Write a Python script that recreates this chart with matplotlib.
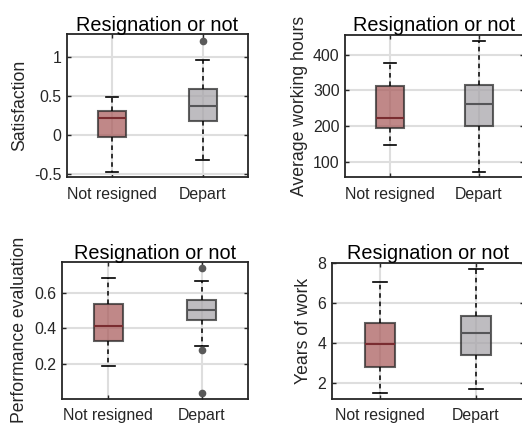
import matplotlib.pyplot as plt

plt.rcParams['font.family'] = ['Liberation Sans', 'DejaVu Sans']

GROUPS = ['Not resigned', 'Depart']
TITLE = 'Resignation or not'

# box statistics per group: whislo, q1, med, q3, whishi, fliers
satisfaction = [
    [-0.467, -0.03, 0.217, 0.314, 0.49, []],
    [-0.315, 0.179, 0.374, 0.587, 0.957, [1.2]],
]
working_hours = [
    [147, 195.6, 223.5, 312, 377.6, []],
    [71, 199.6, 261, 315, 438, []],
]
performance = [
    [0.189, 0.332, 0.416, 0.538, 0.680, []],
    [0.304, 0.449, 0.505, 0.558, 0.665, [0.740, 0.282, 0.04]],
]
years_of_work = [
    [1.52, 2.81, 3.97, 5.02, 7.02, []],
    [1.70, 3.43, 4.52, 5.36, 7.70, []],
]

ylabels = ['Satisfaction', 'Average working hours',
           'Performance evaluation', 'Years of work']
yticks = [[-0.5, 0, 0.5, 1], [100, 200, 300, 400],
          [0.2, 0.4, 0.6], [2, 4, 6, 8]]
yticklabels = [['-0.5', '0', '0.5', '1'], ['100', '200', '300', '400'],
               ['0.2', '0.4', '0.6'], ['2', '4', '6', '8']]
ylims = [(-0.534, 1.29), (57, 456), (0.008, 0.771), (1.24, 8)]

FACE = ['#a85b5b', '#a6a3a8']
MEDIAN = ['#7a2c30', '#555558']
DARK = '#262626'

W, H = 522, 423
# axes boxes in pixels: left, right, top, bottom
boxes_px = [(66.7, 248, 34, 177), (345.3, 523.5, 34.7, 177),
            (61.7, 248.3, 262, 398.7), (332, 524, 262.7, 398.7)]


def to_stats(rows):
    out = []
    for name, r in zip(GROUPS, rows):
        out.append(dict(label=name, whislo=r[0], q1=r[1], med=r[2],
                        q3=r[3], whishi=r[4], fliers=r[5]))
    return out


fig = plt.figure(figsize=(W / 100, H / 100), dpi=100)

datasets = [satisfaction, working_hours, performance, years_of_work]
for i, data in enumerate(datasets):
    l, r, t, b = boxes_px[i]
    ax = fig.add_axes([l / W, 1 - b / H, (r - l) / W, (b - t) / H])
    ax.set_axisbelow(True)
    ax.grid(True, color='#dedede', linewidth=1.5)

    res = ax.bxp(to_stats(data), positions=[1, 2], widths=0.31,
                 capwidths=0.14, patch_artist=True, manage_ticks=False,
                 whiskerprops=dict(color='black', linewidth=1.1,
                                   linestyle=(0, (3, 2.5))),
                 capprops=dict(color='black', linewidth=1.2),
                 flierprops=dict(marker='o', markersize=4.5,
                                 markerfacecolor='#595959',
                                 markeredgecolor='#595959'))
    for j, patch in enumerate(res['boxes']):
        patch.set_facecolor(FACE[j])
        patch.set_alpha(0.72)
        patch.set_edgecolor(DARK)
        patch.set_linewidth(1.5)
    for j, med in enumerate(res['medians']):
        med.set_color(MEDIAN[j])
        med.set_linewidth(1.5)

    ax.set_xlim(0.5, 2.5)
    ax.set_ylim(*ylims[i])
    ax.set_xticks([1, 2])
    ax.set_xticklabels(GROUPS)
    ax.set_yticks(yticks[i])
    ax.set_yticklabels(yticklabels[i])
    ax.tick_params(direction='in', length=3, width=1, color=DARK,
                   labelcolor=DARK, labelsize=11.4,
                   top=True, right=True)
    ax.tick_params(axis='x', pad=7)
    ax.tick_params(axis='y', pad=4)
    for sp in ax.spines.values():
        sp.set_color(DARK)
        sp.set_linewidth(1.3)
    ax.set_title(TITLE, fontsize=14.3, pad=2.5)
    ax.set_ylabel(ylabels[i], fontsize=12.7, color=DARK, labelpad=4)

fig.savefig('out.png', dpi=100)
